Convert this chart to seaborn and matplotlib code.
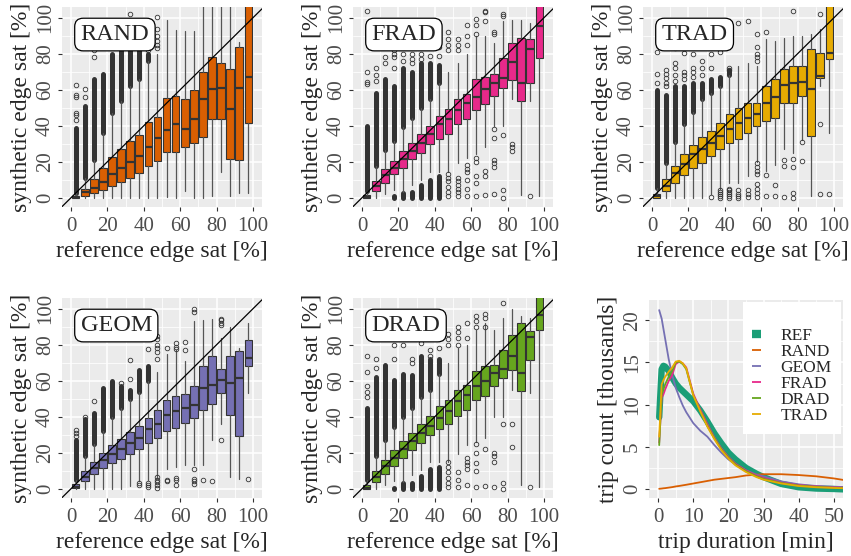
import numpy as np
import pandas as pd
import matplotlib
matplotlib.use("Agg")
import matplotlib.pyplot as plt
import matplotlib.ticker as mtick
import seaborn as sns
from matplotlib.lines import Line2D

nan = np.nan

# reference edge saturation bins (centres, %)
bins = [2.5, 7.5, 12.5, 17.5, 22.5, 27.5, 32.5, 37.5, 42.5, 47.5,
        52.5, 57.5, 62.5, 67.5, 72.5, 77.5, 82.5, 87.5, 92.5, 97.5]

# ---- RAND ----
rand_q1 = [0, 1, 2.4, 4.3, 6.5, 8.7, 11.1, 13.5, 17.6, 20.4, 25.4, 25.4, 28.1, 30.2, 33.7, 43.9, 43.9, 21.3, 20.9, 41.3]
rand_med = [0.5, 3, 5.2, 8.7, 13.1, 16.3, 20, 23.1, 28, 33.3, 37.4, 40.7, 38.3, 43.9, 54.6, 60.6, 61.1, 49.4, 60.7, 67.2]
rand_q3 = [1, 5, 10.2, 16.7, 22.8, 26.9, 31.5, 34.6, 42, 45, 55.6, 56.5, 55, 59.6, 69.8, 78.3, 74.6, 71.7, 83.7, 115]
rand_lo = [0, 0, 0, 0, 0, 0, 0, 0, 0, 0, 0.5, 0, 3.5, 0, 0, 0.7, 14, 0.7, 2.8, 2.8]
rand_hi = [2.5, 11, 21, 36, 47, 54, 62, 66, 76, 80, 99, 93, 92.6, 92.6, 115, 115, 115, 115, 86.7, 115]
rand_dense_hi = [39, 51, 66, 69, 80, 82, 86, 84, 80, nan, nan, nan, nan, nan, nan, nan, nan, nan, nan, nan]
rand_dense_lo = [nan] * 20
rand_fliers = [[43, 46, 47, 56, 57, 62.5], [56, 60.5], [78, 82], [86], [], [88], [102], [87, 90], [82, 84],
               [83, 85, 87, 90, 93.5, 100.5], [], [], [], [], [], [], [], [], [], []]

# ---- FRAD ----
frad_q1 = [0, 3.7, 8.3, 13, 16.7, 21.3, 25, 29.6, 32.8, 35.2, 40.7, 43.5, 49, 51.8, 56.5, 61.1, 65.2, 53.7, 63.9, 77.8]
frad_med = [0.5, 6.5, 12.6, 16.7, 21.7, 25.9, 30.2, 35.2, 40.7, 43.5, 48.5, 52.8, 56.1, 60.6, 63.9, 66.7, 75.6, 63.9, 82.8, 95.7]
frad_q3 = [1.5, 9.3, 15.7, 20.4, 25.9, 30.6, 35.2, 39.8, 45.4, 49.4, 54.6, 57.9, 65.7, 67.2, 68.5, 77.8, 86.1, 88.9, 88.3, 115]
frad_lo = [0, 0, 2, 4, 3, 7, 10, 14, 14, 14, 19, 22, 24, 28, 40, 40, 55, 1.5, 54, 0.7]
frad_hi = [3.5, 17.5, 26.5, 31.5, 39.5, 44.5, 50, 55, 64, 70, 75, 80, 90, 90, 86, 98, 99, 99, 97, 115]
frad_dense_hi = [40, 58, 66, 62, 72, 70, 75, 75, 74, nan, nan, nan, nan, nan, nan, nan, nan, nan, nan, nan]
frad_dense_lo = [nan, nan, nan, 1, 2.5, 3, 7, 10, 12, nan, nan, nan, nan, nan, nan, nan, nan, nan, nan, nan]
frad_fliers = [[63, 64.5, 70, 104], [65, 68, 72], [75, 78], [72, 78, 80, 82], [76, 80], [75, 77, 80], [77, 80],
               [79], [79, 84], [82, 85, 88, 92, 1, 3, 6, 9, 11, 13], [82, 85, 88, 1, 3, 5, 7, 9, 11],
               [85, 90, 96, 1, 5, 10, 14, 16, 18], [91, 96, 99.5, 1, 8, 12, 20, 22], [98, 103, 103.5, 1.5, 12, 15],
               [91, 92, 2, 17, 19, 21, 33, 38], [101, 102, 0, 4, 35], [26, 28, 30], [], [1], []]

# ---- TRAD ----
trad_q1 = [0, 3.7, 8.3, 12.4, 16.7, 19.4, 23.1, 26.9, 30.6, 32.8, 36.1, 39.8, 42.6, 44.4, 52.8, 52.8, 56.5, 34.3, 66.7, 77.2]
trad_med = [0.9, 6.5, 13.9, 18.5, 24, 27, 30.5, 34.3, 38, 41.7, 44.4, 46.3, 52.4, 56.1, 62.4, 63.9, 64.3, 60.2, 67.6, 80.6]
trad_q3 = [2.2, 10.2, 17.6, 24, 29, 33.7, 37, 41.7, 46.3, 50, 52.8, 52.8, 62, 65.7, 71.3, 73.1, 73.1, 82.8, 80.6, 115]
trad_lo = [0, 0, 0, 0, 0, 0, 2, 5, 8, 8, 12, 20, 15, 18, 27, 25, 32, 0.7, 62, 36]
trad_hi = [5.5, 19, 31, 41, 47.5, 55, 58, 62, 68, 73, 75, 73, 88, 87, 89, 90, 90, 91, 94, 115]
trad_dense_hi = [60, 57, 62, 62, 64, 64, 66, 67, 71, nan, nan, nan, nan, nan, nan, nan, nan, nan, nan, nan]
trad_dense_lo = [nan] * 20
trad_fliers = [[64, 68.5, 81], [62, 64, 66.5, 69, 71], [65, 68, 72, 75, 83], [66, 68, 70, 80.5], [67, 70, 72, 80],
               [68, 72, 76], [72, 80, 0.5], [81, 0, 1, 2, 3, 4], [71, 72, 0, 1, 2, 3, 4, 5], [97, 0, 1, 2, 4],
               [98, 0.5, 2, 4], [76, 78, 80, 84, 91, 0.5, 2.5, 5, 7.5, 13, 15, 17, 19], [92, 1, 12.5], [0.7, 7],
               [0.5, 17.5, 21], [0, 2.5, 17, 21.5, 104], [20.5, 31], [], [2, 41, 102], [2]]

# ---- GEOM ----
geom_q1 = [0.5, 4.3, 7.9, 11.6, 14.4, 16.3, 19, 22.2, 25.5, 28.3, 32, 33.8, 36.6, 39.4, 43.6, 46.8, 53.2, 40.9, 29.2, 68]
geom_med = [1.1, 6.5, 11.6, 15.9, 19, 21.8, 25.5, 28.3, 33.3, 36, 41, 43, 44.7, 46.6, 56, 57.9, 60.4, 58.8, 61.5, 72.6]
geom_q3 = [2.4, 9.8, 14.8, 20, 24.5, 27.7, 31.4, 34.8, 39.4, 43.6, 49.5, 51.4, 52.9, 57, 68.4, 73.6, 66.7, 73.6, 76.3, 82.8]
geom_lo = [0, 0, 0, 0, 0, 0, 1.5, 4, 5, 6, 11, 12, 13, 13, 13, 27, 36, 6.5, 5.5, 53]
geom_hi = [5, 18, 25, 32, 40, 45, 50, 54, 60, 65, 75, 77, 71, 93, 93.5, 94.5, 84, 90, 78, 91.9]
geom_dense_hi = [27, 39, 42, 56, 59.7, 57, 55, 66, 68, nan, nan, nan, nan, nan, nan, nan, nan, nan, nan, nan]
geom_dense_lo = [nan] * 20
geom_fliers = [[29, 31, 32.5], [40], [49], [], [], [59], [61, 71.5], [2, 3], [77.5, 1, 2, 3],
               [72, 76, 78, 80, 83, 85, 0.5, 2, 3.5, 5, 6.5], [78, 4, 5], [77.5, 78.5, 81, 2, 5, 6], [77, 81.5],
               [98, 100, 2.5, 4, 5.5, 11], [5], [4], [91, 92, 93.5, 94.6, 27], [], [], [5.5]]

# ---- DRAD ----
drad_q1 = [0, 3.7, 8.3, 12.6, 17.2, 21.4, 25.5, 30.1, 33.3, 35.7, 40.3, 44, 49.5, 51.4, 56.9, 61.6, 66.2, 54.2, 71.5, 88.4]
drad_med = [0.5, 6.5, 12.6, 17.2, 22.2, 26.4, 30.7, 34.8, 39.4, 43, 48.6, 52.3, 56.9, 59.7, 64.3, 66.5, 74, 64.3, 84.1, 96.7]
drad_q3 = [2, 9.8, 15.9, 21.4, 26.4, 31, 35.7, 40.3, 45.8, 49.2, 55, 57.9, 65.2, 68, 68.9, 77.3, 85.6, 92, 87.4, 115]
drad_lo = [0, 0, 2, 4, 3.5, 7.5, 10.5, 15, 15, 15, 19, 24, 26, 28, 40, 40, 55, 2, 53, 0.7]
drad_hi = [5, 18, 27, 34, 40, 45, 51, 55, 64, 70, 78, 80, 88, 92, 88, 95, 100, 96, 95, 115]
drad_dense_hi = [45, 62, 69, 60.6, 64, 63, 74, 72, 72, nan, nan, nan, nan, nan, nan, nan, nan, nan, nan, nan]
drad_dense_lo = [nan, nan, nan, 0.5, 3, 3, 7, 11, 12, nan, nan, nan, nan, nan, nan, nan, nan, nan, nan, nan]
drad_fliers = [[51, 54, 57, 65, 74], [67, 72], [], [72, 80], [80], [70, 72], [81], [74, 77], [78],
               [80, 83, 86, 1, 3, 6, 9, 12, 15], [80, 84, 87, 90, 1, 5, 9], [84, 92, 2, 11, 13, 15, 17],
               [90, 93, 96, 1, 10, 14, 20, 25], [90, 95, 97, 1.5, 22], [1, 15, 18, 20], [103, 0, 3, 36],
               [23, 36], [], [1], []]

# ---- trip duration distribution (thousands of trips) ----
duration = [0.3, 1, 1.5, 2, 3, 4, 5, 6, 7, 8, 10, 12, 14, 16, 18, 20, 22, 25, 28, 30, 35, 40, 45, 50, 53]
ref_trips = [8.5, 14.2, 14.6, 14.5, 14.0, 13.2, 12.5, 12.0, 11.6, 11.2, 10.4, 9.3, 8.0, 6.6, 5.4, 4.3, 3.5, 2.5,
             1.8, 1.4, 0.6, 0.2, 0.05, 0.0, -0.05]
rand_trips = [0.02, 0.05, 0.08, 0.1, 0.16, 0.22, 0.3, 0.36, 0.43, 0.5, 0.65, 0.8, 0.95, 1.1, 1.2, 1.3, 1.4, 1.6,
              1.7, 1.75, 1.75, 1.65, 1.5, 1.25, 1.05]
geom_trips = [21.2, 20.2, 19.0, 17.8, 15.4, 13.5, 12.0, 10.9, 9.9, 9.1, 7.8, 6.9, 6.2, 5.2, 4.3, 3.5, 2.9, 2.2,
              1.7, 1.5, 0.9, 0.55, 0.35, 0.25, 0.2]
frad_trips = [5.5, 10.8, 11.2, 11.8, 12.8, 13.5, 14.8, 15.1, 14.9, 14.4, 11.3, 9.4, 7.7, 6.1, 4.8, 3.8, 3.0, 2.2,
              1.6, 1.3, 0.75, 0.45, 0.3, 0.2, 0.15]
drad_trips = [5.2, 11.2, 11.8, 12.4, 13.3, 14.0, 15.0, 15.1, 14.8, 14.2, 11.1, 9.2, 7.5, 6.0, 4.7, 3.7, 2.9, 2.1,
              1.5, 1.2, 0.7, 0.4, 0.25, 0.15, 0.1]
trad_trips = [6.2, 12.4, 12.9, 13.3, 13.9, 14.4, 15.1, 15.2, 14.9, 14.3, 11.1, 9.2, 7.4, 5.9, 4.6, 3.6, 2.8, 2.0,
              1.4, 1.1, 0.65, 0.35, 0.2, 0.12, 0.08]

colors = {"REF": "#1B9E77", "RAND": "#D95F02", "GEOM": "#7570B3",
          "FRAD": "#E7298A", "DRAD": "#66A61E", "TRAD": "#E6AB02"}

sns.set_theme(style="darkgrid", rc={
    "axes.facecolor": "#EBEBEB",
    "grid.color": "white",
    "axes.edgecolor": "none",
    "xtick.color": "#333333",
    "ytick.color": "#333333",
    "xtick.labelcolor": "#4D4D4D",
    "ytick.labelcolor": "#4D4D4D",
    "xtick.major.size": 3,
    "ytick.major.size": 3,
    "xtick.major.width": 0.8,
    "ytick.major.width": 0.8,
    "xtick.major.pad": 4.5,
    "ytick.major.pad": 2,
    "xtick.bottom": True,
    "ytick.left": True,
})
plt.rcParams['font.family'] = ['Liberation Serif', 'DejaVu Serif']

W, H = 851, 556
fig = plt.figure(figsize=(W / 100, H / 100), dpi=100)


def add_px_axes(left, top, right, bottom):
    return fig.add_axes([left / W, 1 - bottom / H, (right - left) / W, (bottom - top) / H])


def style_axes(ax, major, minor):
    ax.xaxis.set_major_locator(mtick.FixedLocator(major[0]))
    ax.yaxis.set_major_locator(mtick.FixedLocator(major[1]))
    ax.xaxis.set_minor_locator(mtick.FixedLocator(minor[0]))
    ax.yaxis.set_minor_locator(mtick.FixedLocator(minor[1]))
    ax.grid(which="major", color="white", linewidth=1.1)
    ax.grid(which="minor", color="white", linewidth=0.55)
    ax.tick_params(which="minor", length=0)
    ax.tick_params(which="major", labelsize=15)
    for lab in ax.get_yticklabels():
        lab.set_rotation(90)
        lab.set_va("center")
    for s in ax.spines.values():
        s.set_visible(False)


panels = [
    ("RAND", (62, 7, 262, 207), rand_q1, rand_med, rand_q3, rand_lo, rand_hi, rand_dense_hi, rand_dense_lo, rand_fliers),
    ("FRAD", (353, 7, 553, 207), frad_q1, frad_med, frad_q3, frad_lo, frad_hi, frad_dense_hi, frad_dense_lo, frad_fliers),
    ("TRAD", (643, 7, 843, 207), trad_q1, trad_med, trad_q3, trad_lo, trad_hi, trad_dense_hi, trad_dense_lo, trad_fliers),
    ("GEOM", (62, 298, 262, 498), geom_q1, geom_med, geom_q3, geom_lo, geom_hi, geom_dense_hi, geom_dense_lo, geom_fliers),
    ("DRAD", (353, 298, 553, 498), drad_q1, drad_med, drad_q3, drad_lo, drad_hi, drad_dense_hi, drad_dense_lo, drad_fliers),
]

for name, box, q1, med, q3, lo, hi, dhi, dlo, fl in panels:
    ax = add_px_axes(*box)
    stats = [dict(q1=a, med=m, q3=b, whislo=l, whishi=h, fliers=f)
             for a, m, b, l, h, f in zip(q1, med, q3, lo, hi, fl)]
    ax.bxp(stats, positions=bins, widths=4.2, patch_artist=True, showcaps=False,
           boxprops=dict(facecolor=colors[name], edgecolor="#333333", linewidth=0.8),
           medianprops=dict(color="#333333", linewidth=1.6),
           whiskerprops=dict(color="#555555", linewidth=0.9),
           flierprops=dict(marker="o", markerfacecolor="none", markeredgecolor="#333333",
                           markersize=3.3, markeredgewidth=0.6),
           manage_ticks=False)
    up = ax.vlines(bins, hi, dhi, color="#333333", linewidth=3.6, zorder=1.5)
    up.set_capstyle("round")
    dn = ax.vlines(bins, 0, dlo, color="#333333", linewidth=3.6, zorder=1.5)
    dn.set_capstyle("round")
    ax.axline((0, 0), slope=1, color="black", linewidth=0.9, zorder=4)
    ax.set_xlim(-5, 105)
    ax.set_ylim(-5.2, 106)
    style_axes(ax, ([0, 20, 40, 60, 80, 100], [0, 20, 40, 60, 80, 100]),
               ([10, 30, 50, 70, 90], [10, 30, 50, 70, 90]))
    ax.set_xlabel("reference edge sat [%]", fontsize=17, labelpad=3.5)
    ax.set_ylabel("synthetic edge sat [%]", fontsize=17, labelpad=3)
    ax.annotate(name, xy=(0, 100), xytext=(6.8, -4.5), textcoords="offset points",
                ha="left", va="top", fontsize=17.5, zorder=5,
                bbox=dict(boxstyle="round,pad=0.24,rounding_size=0.35", fc="white", ec="black", lw=0.9))

# trip duration panel
ax = add_px_axes(649, 300, 843, 498)
series = [("REF", ref_trips), ("RAND", rand_trips), ("GEOM", geom_trips),
          ("FRAD", frad_trips), ("DRAD", drad_trips), ("TRAD", trad_trips)]
handles = []
for name, vals in series:
    df = pd.DataFrame({"duration": duration, "count": vals})
    lw = 4.6 if name == "REF" else 1.3
    sns.lineplot(data=df, x="duration", y="count", color=colors[name], linewidth=lw, ax=ax)
    handles.append(Line2D([], [], color=colors[name], linewidth=6 if name == "REF" else 1.3,
                          solid_capstyle="butt"))
ax.set_xlim(-2.6, 52.6)
ax.set_ylim(-1.07, 22.4)
style_axes(ax, ([0, 10, 20, 30, 40, 50], [0, 5, 10, 15, 20]),
           ([5, 15, 25, 35, 45], [2.5, 7.5, 12.5, 17.5]))
ax.set_xlabel("trip duration [min]", fontsize=17, labelpad=3.5)
ax.set_ylabel("trip count [thousands]", fontsize=17, labelpad=3)
leg = ax.legend(handles, [s[0] for s in series], loc="upper right", bbox_to_anchor=(0.99, 0.99),
                borderaxespad=0, frameon=True, fancybox=False, facecolor="white", edgecolor="none",
                framealpha=1, fontsize=12.5, handlelength=0.5, handletextpad=1.1,
                labelspacing=0.0, title=" ", title_fontsize=12, borderpad=0.55)

fig.savefig("out.png", dpi=100)
